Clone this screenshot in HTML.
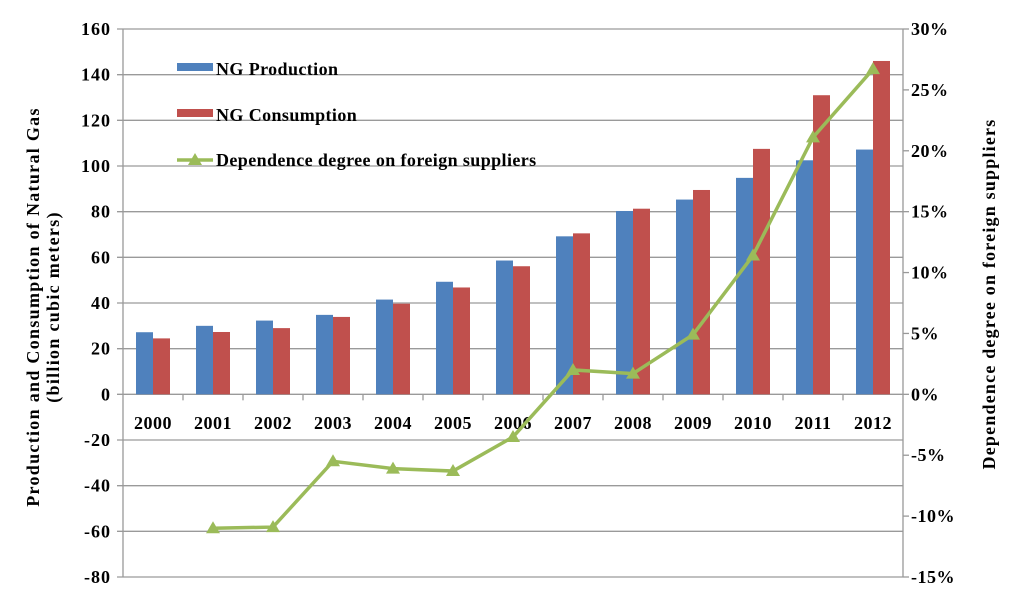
<!DOCTYPE html>
<html><head><meta charset="utf-8"><style>
body{margin:0;background:#fff}
svg{display:block;font-family:"Liberation Serif",serif;font-weight:bold}
</style></head><body>
<svg id="c" width="1024" height="614"></svg>
<script>
const categories=["2000","2001","2002","2003","2004","2005","2006","2007","2008","2009","2010","2011","2012"];
const production=[27.2,30.0,32.3,34.8,41.5,49.3,58.6,69.2,80.3,85.3,94.8,102.5,107.2];
const consumption=[24.5,27.3,29.0,33.9,39.7,46.8,56.1,70.5,81.3,89.5,107.5,131,146];
const dependence=[null,-11.0,-10.9,-5.5,-6.1,-6.3,-3.5,2.0,1.7,4.9,11.4,21.1,26.7];
const leftTicks=[-80,-60,-40,-20,0,20,40,60,80,100,120,140,160];
const rightTicks=[-15,-10,-5,0,5,10,15,20,25,30];
const NS="http://www.w3.org/2000/svg",svg=document.getElementById('c');
const X0=123,X1=903,Y0=29,Y1=577;
const yL=v=>Y1-(v+80)/240*(Y1-Y0);
const yR=v=>Y1-(v+15)/45*(Y1-Y0);
const gw=(X1-X0)/categories.length;
const xc=i=>X0+gw*(i+0.5);
function el(t,a,p){const e=document.createElementNS(NS,t);for(const k in a)e.setAttribute(k,a[k]);(p||svg).appendChild(e);return e;}
leftTicks.forEach(v=>{
 const g=el('line',{x1:X0-6,x2:X1,y1:yL(v),y2:yL(v),stroke:'#9a9a9a','stroke-width':1.3});
 
 
 const t=el('text',{x:111,y:yL(v)+6,'text-anchor':'end','font-size':18,'letter-spacing':1});t.textContent=v;
 
 
});
rightTicks.forEach(v=>{
 el('line',{x1:X1,x2:X1+6,y1:yR(v),y2:yR(v),stroke:'#999','stroke-width':1.3});
 const t=el('text',{x:911,y:yR(v)+6,'font-size':18,'letter-spacing':0.5});t.textContent=v+'%';
 
 
});
el('line',{x1:X0,x2:X0,y1:Y0,y2:Y1,stroke:'#999','stroke-width':1.3});
el('line',{x1:X1,x2:X1,y1:Y0,y2:Y1,stroke:'#999','stroke-width':1.3});
categories.forEach((c,i)=>{
 if(i>0)el('line',{x1:X0+gw*i,x2:X0+gw*i,y1:yL(0),y2:yL(0)+6,stroke:'#999','stroke-width':1.3});
 const bw=17;
 const b1=el('rect',{x:xc(i)-bw,y:yL(production[i]),width:bw,height:yL(0)-yL(production[i]),fill:'#4f81bd'});
 
 
 const b2=el('rect',{x:xc(i),y:yL(consumption[i]),width:bw,height:yL(0)-yL(consumption[i]),fill:'#c0504d'});
 
 
 const t=el('text',{x:xc(i),y:429,'text-anchor':'middle','font-size':18,'letter-spacing':0.5});t.textContent=c;
 
 
});
let pts=[];dependence.forEach((v,i)=>{if(v!==null)pts.push([xc(i),yR(v)]);});
const pl=el('polyline',{points:pts.map(p=>p.join(',')).join(' '),fill:'none',stroke:'#9bbb59','stroke-width':3.5});


function tri(x,y){return `${x},${y-7} ${x-7},${y+5} ${x+7},${y+5}`;}
pts.forEach(p=>{const m=el('polygon',{points:tri(p[0],p[1]),fill:'#9bbb59'});
 
 });
// legend
const lg=el('g',{});
el('rect',{x:177,y:63,width:36,height:8,fill:'#4f81bd'},lg);
el('text',{x:216,y:75,'font-size':18,'letter-spacing':0.4},lg).textContent='NG Production';
el('rect',{x:177,y:109,width:36,height:8,fill:'#c0504d'},lg);
el('text',{x:216,y:121,'font-size':18,'letter-spacing':0.4},lg).textContent='NG Consumption';
el('line',{x1:177,x2:213,y1:160,y2:160,stroke:'#9bbb59','stroke-width':3.5},lg);
el('polygon',{points:tri(195,160),fill:'#9bbb59'},lg);
el('text',{x:216,y:166,'font-size':18,'letter-spacing':0.4},lg).textContent='Dependence degree on foreign suppliers';
const t1=el('text',{x:0,y:0,'text-anchor':'middle','font-size':18,transform:'translate(39,307) rotate(-90)','letter-spacing':'1.3'});
t1.textContent='Production and Consumption  of Natural Gas';

const t2=el('text',{x:0,y:0,'text-anchor':'middle','font-size':18,transform:'translate(59,307) rotate(-90)','letter-spacing':'1.3'});
t2.textContent='(billion cubic meters)';

const t3=el('text',{x:0,y:0,'text-anchor':'middle','font-size':18,transform:'translate(995,294) rotate(-90)','letter-spacing':'1.2'});
t3.textContent='Dependence degree on foreign suppliers';

</script>
</body></html>
